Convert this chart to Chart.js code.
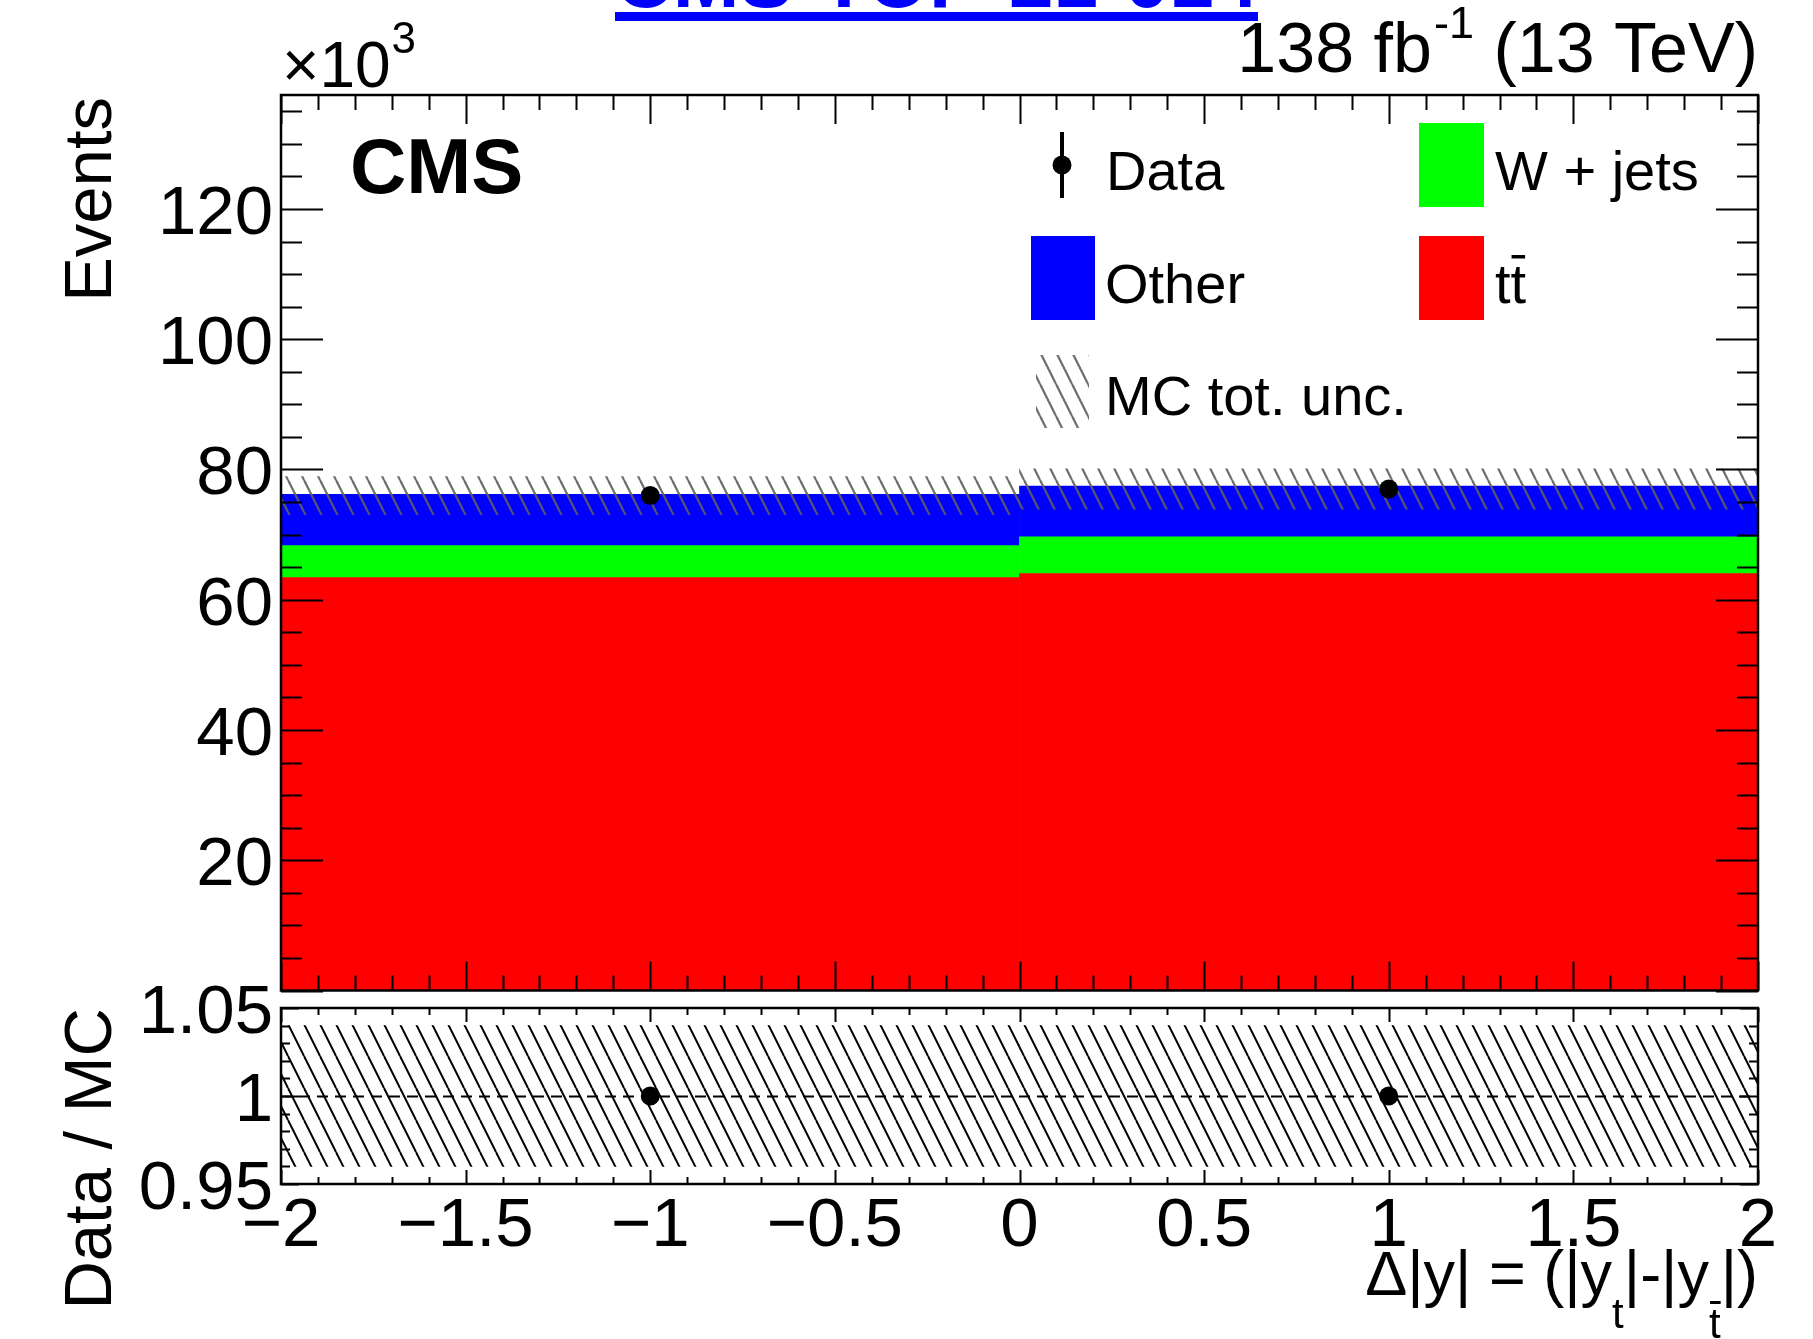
<!DOCTYPE html>
<html>
<head>
<meta charset="utf-8">
<script src="https://cdn.jsdelivr.net/npm/chart.js@4.4.1/dist/chart.umd.min.js"></script>
<style>
  body { margin: 0; background: #fff; }
  #wrap { position: relative; width: 1813px; height: 1339px; overflow: hidden; }
  canvas { position: absolute; left: 0; }
  #mainCanvas { top: 0; }
  #ratioCanvas { top: 960px; }
</style>
</head>
<body>
<div id="wrap">
  <canvas id="mainCanvas" width="1813" height="1000"></canvas>
  <canvas id="ratioCanvas" width="1813" height="379"></canvas>
</div>
<script>
// bins in delta|y| (two bins: [-2,0] and [0,2])
var binLabels = ["-1", "1"];
var binCenters = [-1, 1];

// stacked MC, in units of 10^3 events
var ttbar = [63.4, 64.0];
var wjets = [4.9, 5.65];
var other = [7.9, 7.8];
var mcUncUp = [78.9, 80.1];
var mcUncDown = [73.1, 73.9];
var dataEvents = [76.0, 77.0];

// ratio panel
var ratioVals = [1.0, 1.0];
var ratioUncUp = [1.04, 1.04];
var ratioUncDown = [0.96, 0.96];

// tick labels
var xMajorTicks = [-2, -1.5, -1, -0.5, 0, 0.5, 1, 1.5, 2];
var yMajorTicks = [20, 40, 60, 80, 100, 120];
var ratioMajorTicks = [0.95, 1, 1.05];

var FONT = '"Liberation Sans", Arial, Helvetica, sans-serif';

function font(size, bold) {
  return (bold ? "bold " : "") + size + "px " + FONT;
}

// diagonal "\" hatch used by ROOT style fills
function makeHatch(color, width) {
  var c = document.createElement("canvas");
  c.width = 16;
  c.height = 32;
  var g = c.getContext("2d");
  g.strokeStyle = color;
  g.lineWidth = width;
  [-16, 0, 16].forEach(function (off) {
    g.beginPath();
    g.moveTo(off, 0);
    g.lineTo(off + 16, 32);
    g.stroke();
  });
  return g.createPattern(c, "repeat");
}

function fmtX(v) {
  return (v < 0 ? "\u2212" : "") + Math.abs(v);
}

// inward ticks on all four sides
function drawTicks(ctx, a, xs, ys, o) {
  ctx.save();
  ctx.strokeStyle = "#000";
  ctx.lineWidth = 2;
  ctx.beginPath();
  var v, px, py, len;
  for (v = o.xMin; v <= o.xMax + 1e-9; v += o.xMinorStep) {
    px = Math.round(xs.getPixelForValue(v)) + 0.5;
    len = Math.abs(v / o.xMajorStep - Math.round(v / o.xMajorStep)) < 1e-6 ? o.xMajLen : o.xMinLen;
    ctx.moveTo(px, a.bottom);
    ctx.lineTo(px, a.bottom - len);
    ctx.moveTo(px, a.top);
    ctx.lineTo(px, a.top + len);
  }
  for (v = o.yMin; v <= o.yMax + 1e-9; v += o.yMinorStep) {
    py = Math.round(ys.getPixelForValue(v)) + 0.5;
    len = Math.abs(v / o.yMajorStep - Math.round(v / o.yMajorStep)) < 1e-6 ? o.yMajLen : o.yMinLen;
    ctx.moveTo(a.left, py);
    ctx.lineTo(a.left + len, py);
    ctx.moveTo(a.right, py);
    ctx.lineTo(a.right - len, py);
  }
  ctx.stroke();
  ctx.lineWidth = 2.5;
  ctx.strokeRect(a.left, a.top, a.right - a.left, a.bottom - a.top);
  ctx.restore();
}

var mainHatch = makeHatch("rgba(95,95,95,0.9)", 2.2);
var ratioHatch = makeHatch("#000", 2);

// Main panel decorations
var mainDeco = {
  id: "mainDeco",
  afterDraw: function (chart) {
    var ctx = chart.ctx;
    var a = chart.chartArea;
    var xs = chart.scales.xl;
    var ys = chart.scales.y;

    drawTicks(ctx, a, xs, ys, {
      xMin: -2, xMax: 2, xMinorStep: 0.1, xMajorStep: 0.5, xMajLen: 29, xMinLen: 15,
      yMin: 0, yMax: 135, yMinorStep: 5, yMajorStep: 20, yMajLen: 42, yMinLen: 21
    });

    ctx.save();
    ctx.fillStyle = "#000";

    // y tick labels
    ctx.font = font(69);
    ctx.textAlign = "right";
    ctx.textBaseline = "alphabetic";
    yMajorTicks.forEach(function (t) {
      ctx.fillText(String(t), a.left - 8, ys.getPixelForValue(t) + 25);
    });

    // x10^3
    ctx.textAlign = "left";
    ctx.font = font(64);
    ctx.fillText("\u00d710", a.left + 1, 87);
    var w = ctx.measureText("\u00d710").width;
    ctx.font = font(44);
    ctx.fillText("3", a.left + 1 + w + 1, 53);

    // y title
    ctx.save();
    ctx.translate(111, a.top + 2);
    ctx.rotate(-Math.PI / 2);
    ctx.font = font(67);
    ctx.textAlign = "right";
    ctx.fillText("Events", 0, 0);
    ctx.restore();

    // CMS label
    ctx.font = font(78, true);
    ctx.textAlign = "left";
    ctx.fillText("CMS", 350, 193);

    // lumi label
    var p1 = "138 fb", p2 = "-1", p3 = " (13 TeV)";
    ctx.font = font(70);
    var w1 = ctx.measureText(p1).width;
    var w3 = ctx.measureText(p3).width;
    ctx.font = font(45);
    var w2 = ctx.measureText(p2).width;
    var x0 = a.right - w1 - w2 - w3 - 2;
    ctx.font = font(70);
    ctx.fillText(p1, x0, 72);
    ctx.font = font(45);
    ctx.fillText(p2, x0 + w1 + 2, 38);
    ctx.font = font(70);
    ctx.fillText(p3, x0 + w1 + w2 + 2, 72);

    // cut-off blue link at the very top
    ctx.fillStyle = "#0000ff";
    ctx.font = font(80, true);
    ctx.fillText("CMS-TOP-21-014", 615, 7);
    ctx.fillRect(615, 12, 643, 9);

    // legend
    ctx.fillStyle = "#000";
    ctx.font = font(56);
    ctx.textAlign = "left";
    // Data
    ctx.lineWidth = 4;
    ctx.beginPath();
    ctx.moveTo(1062, 132);
    ctx.lineTo(1062, 198);
    ctx.stroke();
    ctx.beginPath();
    ctx.arc(1062, 165, 9.5, 0, Math.PI * 2);
    ctx.fill();
    ctx.fillText("Data", 1106, 190);
    // W + jets
    ctx.fillStyle = "#00ff00";
    ctx.fillRect(1419, 123, 65, 84);
    ctx.fillStyle = "#000";
    ctx.fillText("W + jets", 1495, 190);
    // Other
    ctx.fillStyle = "#0000ff";
    ctx.fillRect(1031, 236, 64, 84);
    ctx.fillStyle = "#000";
    ctx.fillText("Other", 1105, 303);
    // ttbar
    ctx.fillStyle = "#ff0000";
    ctx.fillRect(1419, 236, 65, 84);
    ctx.fillStyle = "#000";
    ctx.fillText("tt", 1495, 303);
    var wt = ctx.measureText("t").width;
    ctx.fillRect(1495 + wt + 1, 255, wt - 2, 3.5);
    // MC unc
    ctx.fillStyle = mainHatch;
    ctx.fillRect(1036, 355, 53, 73);
    ctx.fillStyle = "#000";
    ctx.fillText("MC tot. unc.", 1105, 415);

    ctx.restore();
  }
};

// Ratio panel decorations (canvas starts at y = 960 on the page)
var ratioDeco = {
  id: "ratioDeco",
  afterDatasetsDraw: function (chart) {
    var ctx = chart.ctx;
    var a = chart.chartArea;
    var py = chart.scales.y.getPixelForValue(1) + 0.5;
    ctx.save();
    ctx.strokeStyle = "#000";
    ctx.lineWidth = 2;
    ctx.setLineDash([11, 7]);
    ctx.beginPath();
    ctx.moveTo(a.left, py);
    ctx.lineTo(a.right, py);
    ctx.stroke();
    ctx.restore();
  },
  afterDraw: function (chart) {
    var ctx = chart.ctx;
    var a = chart.chartArea;
    var xs = chart.scales.xl;
    var ys = chart.scales.y;

    drawTicks(ctx, a, xs, ys, {
      xMin: -2, xMax: 2, xMinorStep: 0.1, xMajorStep: 0.5, xMajLen: 14, xMinLen: 7,
      yMin: 0.95, yMax: 1.05, yMinorStep: 0.01, yMajorStep: 0.05, yMajLen: 18, yMinLen: 9
    });

    ctx.save();
    ctx.fillStyle = "#000";
    ctx.font = font(69);
    ctx.textAlign = "right";
    ratioMajorTicks.forEach(function (t) {
      ctx.fillText(String(t), a.left - 8, ys.getPixelForValue(t) + 25);
    });

    ctx.textAlign = "center";
    xMajorTicks.forEach(function (t) {
      ctx.fillText(fmtX(t), xs.getPixelForValue(t), a.bottom + 62);
    });

    // y title
    ctx.save();
    ctx.translate(111, a.top);
    ctx.rotate(-Math.PI / 2);
    ctx.font = font(67);
    ctx.textAlign = "right";
    ctx.fillText("Data / MC", 0, 0);
    ctx.restore();

    // x title: delta|y| = (|y_t|-|y_tbar|)
    var big = font(63), small = font(42);
    var parts = [
      { t: "\u0394|y| = (|y", f: big, dy: 0 },
      { t: "t", f: small, dy: 33 },
      { t: "|-|y", f: big, dy: 0 },
      { t: "t", f: small, dy: 43, bar: true },
      { t: "|)", f: big, dy: 0 }
    ];
    var total = 0;
    parts.forEach(function (p) {
      ctx.font = p.f;
      p.w = ctx.measureText(p.t).width;
      total += p.w;
    });
    var x = a.right - total;
    var base = a.bottom + 111;
    ctx.textAlign = "left";
    parts.forEach(function (p) {
      ctx.font = p.f;
      ctx.fillText(p.t, x, base + p.dy);
      if (p.bar) {
        ctx.fillRect(x + 1, base + p.dy - 37, p.w - 1, 3);
      }
      x += p.w;
    });
    ctx.restore();
  }
};

function catScale() {
  return { type: "category", labels: binLabels, offset: true, display: false };
}

function linScale() {
  return { type: "linear", min: -2, max: 2, offset: false, display: false };
}

var mainChart = new Chart(document.getElementById("mainCanvas").getContext("2d"), {
  type: "bar",
  data: {
    labels: binLabels,
    datasets: [
      {
        type: "scatter",
        label: "Data",
        xAxisID: "xl",
        data: binCenters.map(function (x, i) { return { x: x, y: dataEvents[i] }; }),
        pointRadius: 9.5,
        pointBackgroundColor: "#000",
        pointBorderWidth: 0
      },
      {
        label: "MC tot. unc.",
        stack: "unc",
        data: binCenters.map(function (x, i) { return [mcUncDown[i], mcUncUp[i]]; }),
        backgroundColor: mainHatch
      },
      { label: "tt", stack: "mc", data: ttbar, backgroundColor: "#ff0000" },
      { label: "W + jets", stack: "mc", data: wjets, backgroundColor: "#00ff00" },
      { label: "Other", stack: "mc", data: other, backgroundColor: "#0000ff" }
    ]
  },
  options: {
    responsive: false,
    animation: false,
    devicePixelRatio: 1,
    layout: { padding: { left: 281, right: 55, top: 95, bottom: 6 } },
    datasets: {
      bar: { grouped: false, barPercentage: 1, categoryPercentage: 1, borderWidth: 0 }
    },
    scales: {
      x: catScale(),
      xl: linScale(),
      y: { type: "linear", stacked: true, min: 0, max: 137.5, display: false }
    },
    plugins: { legend: { display: false }, tooltip: { enabled: false } }
  },
  plugins: [mainDeco]
});

var ratioChart = new Chart(document.getElementById("ratioCanvas").getContext("2d"), {
  type: "bar",
  data: {
    labels: binLabels,
    datasets: [
      {
        type: "scatter",
        label: "Data / MC",
        xAxisID: "xl",
        data: binCenters.map(function (x, i) { return { x: x, y: ratioVals[i] }; }),
        pointRadius: 9.5,
        pointBackgroundColor: "#000",
        pointBorderWidth: 0
      },
      {
        label: "MC unc.",
        data: binCenters.map(function (x, i) { return [ratioUncDown[i], ratioUncUp[i]]; }),
        backgroundColor: ratioHatch
      }
    ]
  },
  options: {
    responsive: false,
    animation: false,
    devicePixelRatio: 1,
    layout: { padding: { left: 281, right: 55, top: 48, bottom: 155 } },
    datasets: {
      bar: { grouped: false, barPercentage: 1, categoryPercentage: 1, borderWidth: 0 }
    },
    scales: {
      x: catScale(),
      xl: linScale(),
      y: { type: "linear", min: 0.95, max: 1.05, display: false }
    },
    plugins: { legend: { display: false }, tooltip: { enabled: false } }
  },
  plugins: [ratioDeco]
});
</script>
</body>
</html>
